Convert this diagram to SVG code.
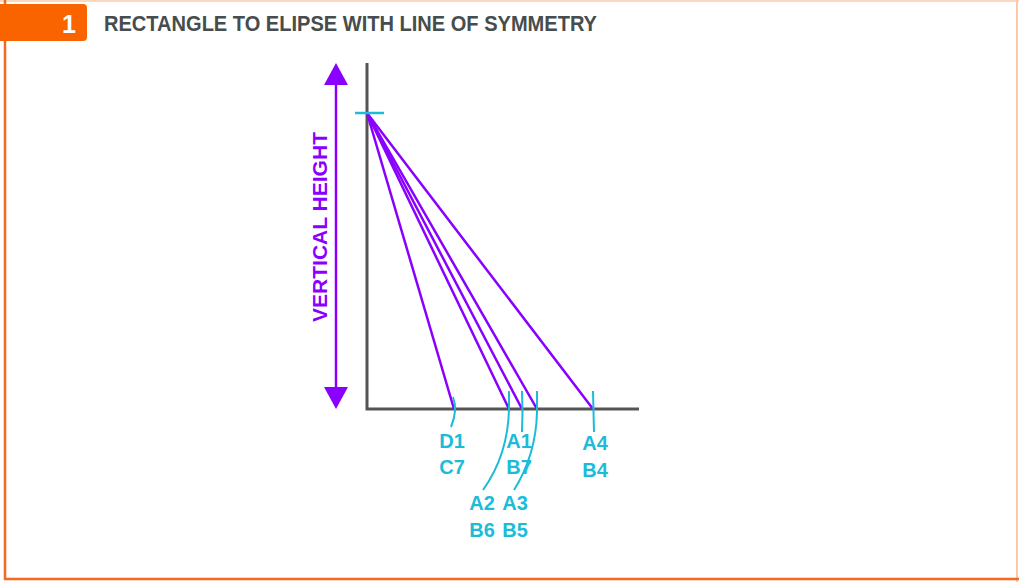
<svg xmlns="http://www.w3.org/2000/svg" width="1019" height="582" viewBox="0 0 1019 582">
<style>
.axis{stroke:#555;stroke-width:3;fill:none}
.ray{stroke:#8a00ff;stroke-width:2.5;fill:none;stroke-linecap:round}
.mark{stroke:#1cbcd8;stroke-width:2;fill:none}
.lbl{font-family:"Liberation Sans",Arial,sans-serif;font-weight:bold;font-size:20px;fill:#1cbcd8;text-anchor:middle}
.title{font-family:"Liberation Sans",Arial,sans-serif;font-weight:bold;font-size:22px;fill:#474c4c}
</style>
<rect width="1019" height="582" fill="#fff"/>
<g id="frame">
<line x1="0" y1="1" x2="1019" y2="1" stroke="#fdd8bf" stroke-width="2"/>
<line x1="1017" y1="0" x2="1017" y2="582" stroke="#fbc9a9" stroke-width="2"/>
<line x1="5" y1="0" x2="5" y2="580" stroke="#f26a1f" stroke-width="2.5"/>
<line x1="4" y1="579" x2="1019" y2="579" stroke="#f26a1f" stroke-width="2.5"/>
</g>
<g id="badge">
<rect x="-6" y="4" width="93" height="37" rx="4" fill="#f96300"/>
<text x="69" y="33" font-family="Liberation Sans,Arial,sans-serif" font-weight="bold" font-size="25" fill="#fff" text-anchor="middle">1</text>
</g>
<g id="title">
<text class="title" x="104" y="31" textLength="493" lengthAdjust="spacingAndGlyphs">RECTANGLE TO ELIPSE WITH LINE OF SYMMETRY</text>
</g>
<g id="height-arrow">
<line x1="336" y1="80" x2="336" y2="392" stroke="#8a00ff" stroke-width="2.5"/>
<polygon points="336,63 324,85 348,85" fill="#8a00ff"/>
<polygon points="336,409 324,387 348,387" fill="#8a00ff"/>
<text transform="translate(327,227) rotate(-90)" font-family="Liberation Sans,Arial,sans-serif" font-weight="bold" font-size="21" fill="#8a00ff" text-anchor="middle" textLength="190" lengthAdjust="spacingAndGlyphs">VERTICAL HEIGHT</text>
</g>
<g id="axes">
<polyline class="axis" points="367,63 367,409 639,409"/>
</g>
<g id="connectors">
<line class="ray" x1="367" y1="113" x2="454" y2="409"/>
<line class="ray" x1="367" y1="113" x2="509" y2="409"/>
<line class="ray" x1="367" y1="113" x2="522" y2="409"/>
<line class="ray" x1="367" y1="113" x2="537" y2="409"/>
<line class="ray" x1="367" y1="113" x2="593" y2="409"/>
<line x1="355" y1="113" x2="384" y2="113" stroke="#1cbcd8" stroke-width="2.5"/>
<path class="mark" d="M453,397 Q458,410 451,427"/>
<path class="mark" d="M509,391 L509,409 Q508,455 483,490"/>
<path class="mark" d="M522,391 Q523,412 522,432"/>
<path class="mark" d="M537,391 L537,412 Q536,455 514,490"/>
<path class="mark" d="M593,391 L594,432"/>
</g>
<g id="labels">
<text class="lbl" x="452" y="448">D1</text>
<text class="lbl" x="452" y="474">C7</text>
<text class="lbl" x="519" y="448">A1</text>
<text class="lbl" x="519" y="474">B7</text>
<text class="lbl" x="482" y="510">A2</text>
<text class="lbl" x="482" y="537">B6</text>
<text class="lbl" x="515" y="510">A3</text>
<text class="lbl" x="515" y="537">B5</text>
<text class="lbl" x="595" y="450">A4</text>
<text class="lbl" x="595" y="477">B4</text>
</g>
</svg>
